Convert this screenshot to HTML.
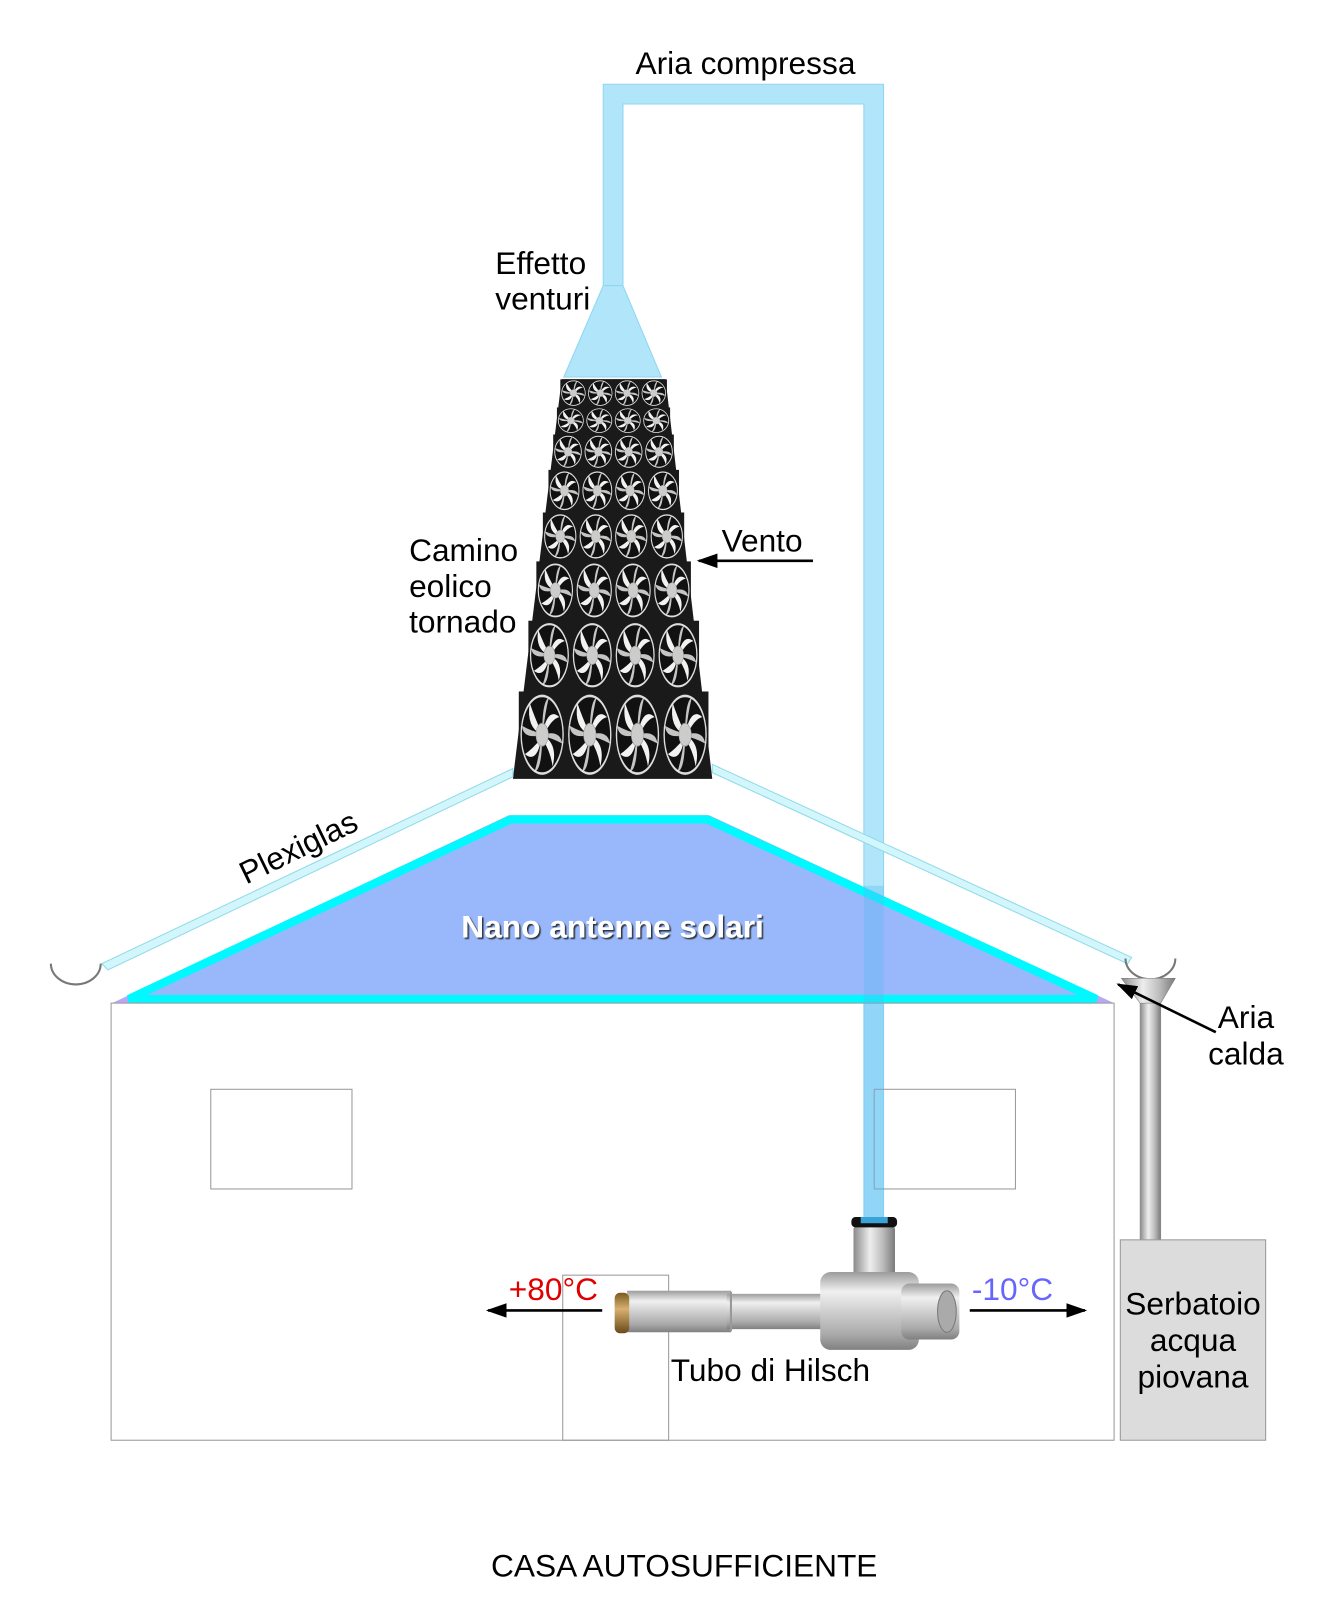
<!DOCTYPE html>
<html><head><meta charset="utf-8"><style>
html,body{margin:0;padding:0;background:#fff;width:1329px;height:1620px;overflow:hidden}
svg{display:block}
text{font-family:"Liberation Sans",sans-serif}
</style></head><body>
<svg width="1329" height="1620" viewBox="0 0 1280 1560" xmlns="http://www.w3.org/2000/svg">
<defs>
<symbol id="fan" viewBox="0 0 100 100" preserveAspectRatio="none">
<rect x="1" y="1" width="98" height="98" fill="#1a1a1a"/>
<circle cx="50" cy="50" r="44" fill="#111" stroke="#ddd" stroke-width="3"/>
<g fill="#f2f2f2">
<path d="M50 50 Q62 18 86 30 Q70 32 56 48Z"/>
<path d="M50 50 Q84 60 72 86 Q68 70 52 56Z"/>
<path d="M50 50 Q40 84 14 72 Q30 66 45 56Z"/>
<path d="M50 50 Q16 42 24 14 Q34 30 46 44Z"/>
<path d="M50 50 Q50 12 64 8 Q56 26 52 46Z" opacity=".8"/>
<path d="M50 50 Q88 44 92 60 Q72 54 54 52Z" opacity=".8"/>
<path d="M50 50 Q50 90 34 92 Q44 74 48 54Z" opacity=".8"/>
<path d="M50 50 Q10 56 8 40 Q28 46 46 48Z" opacity=".8"/>
</g>
<circle cx="50" cy="50" r="13" fill="#ccc" stroke="#998" stroke-width="1"/>
</symbol>
<linearGradient id="steel" x1="0" y1="0" x2="0" y2="1">
<stop offset="0" stop-color="#9c9c9c"/><stop offset=".25" stop-color="#f0f0f0"/><stop offset=".5" stop-color="#d0d0d0"/><stop offset=".8" stop-color="#aaaaaa"/><stop offset="1" stop-color="#808080"/>
</linearGradient>
<linearGradient id="steelV" x1="0" y1="0" x2="1" y2="0">
<stop offset="0" stop-color="#8a8a8a"/><stop offset=".4" stop-color="#eeeeee"/><stop offset=".7" stop-color="#bdbdbd"/><stop offset="1" stop-color="#7a7a7a"/>
</linearGradient>
<linearGradient id="brass" x1="0" y1="0" x2="0" y2="1">
<stop offset="0" stop-color="#7a5a20"/><stop offset=".4" stop-color="#d8b070"/><stop offset="1" stop-color="#6a4a18"/>
</linearGradient>
<marker id="ah" markerWidth="20" markerHeight="14" refX="18" refY="7" orient="auto" markerUnits="userSpaceOnUse" viewBox="0 0 20 14">
<path d="M0 0 L20 7 L0 14Z" fill="#000"/>
</marker>
<filter id="sh" x="-5%" y="-20%" width="110%" height="140%"><feDropShadow dx="1.5" dy="1.5" stdDeviation="0.6" flood-color="#222" flood-opacity="0.9"/></filter>
</defs>

<path d="M581 275 V81 H851 V1175 H832 V100 H600 V275Z" fill="#b0e5fa" stroke="#8fd6f2" stroke-width="1"/>
<polygon points="581,275 600,275 637,363 543,363" fill="#b0e5fa" stroke="#8fd6f2" stroke-width="1"/>

<polygon points="541,365 641,365 686,750 494,750" fill="#1a1a1a"/>
<g>
<use href="#fan" x="539.4" y="365" width="25.8" height="27"/><use href="#fan" x="565.2" y="365" width="25.8" height="27"/><use href="#fan" x="591" y="365" width="25.8" height="27"/><use href="#fan" x="616.8" y="365" width="25.8" height="27"/>
<use href="#fan" x="536.1" y="392" width="27.4" height="26"/><use href="#fan" x="563.5" y="392" width="27.4" height="26"/><use href="#fan" x="590.9" y="392" width="27.4" height="26"/><use href="#fan" x="618.3" y="392" width="27.4" height="26"/>
<use href="#fan" x="532.5" y="418" width="29.2" height="34"/><use href="#fan" x="561.7" y="418" width="29.2" height="34"/><use href="#fan" x="590.9" y="418" width="29.2" height="34"/><use href="#fan" x="620.1" y="418" width="29.2" height="34"/>
<use href="#fan" x="527.9" y="452" width="31.6" height="41"/><use href="#fan" x="559.5" y="452" width="31.6" height="41"/><use href="#fan" x="591.1" y="452" width="31.6" height="41"/><use href="#fan" x="622.7" y="452" width="31.6" height="41"/>
<use href="#fan" x="522.5" y="493" width="34.2" height="47"/><use href="#fan" x="556.7" y="493" width="34.2" height="47"/><use href="#fan" x="590.9" y="493" width="34.2" height="47"/><use href="#fan" x="625.1" y="493" width="34.2" height="47"/>
<use href="#fan" x="516.2" y="540" width="37.4" height="57"/><use href="#fan" x="553.6" y="540" width="37.4" height="57"/><use href="#fan" x="591" y="540" width="37.4" height="57"/><use href="#fan" x="628.4" y="540" width="37.4" height="57"/>
<use href="#fan" x="508.5" y="597" width="41.3" height="68"/><use href="#fan" x="549.8" y="597" width="41.3" height="68"/><use href="#fan" x="591.1" y="597" width="41.3" height="68"/><use href="#fan" x="632.4" y="597" width="41.3" height="68"/>
<use href="#fan" x="499.2" y="665" width="45.9" height="85"/><use href="#fan" x="545.1" y="665" width="45.9" height="85"/><use href="#fan" x="591" y="665" width="45.9" height="85"/><use href="#fan" x="636.9" y="665" width="45.9" height="85"/>
</g>

<polygon points="494,740 494,748 104,934 98,928" fill="#d2f6fb" stroke="#8fdbe8" stroke-width="1"/>
<polygon points="686,736 686,744 1086,928 1090,922" fill="#d2f6fb" stroke="#8fdbe8" stroke-width="1"/>
<path d="M49 928 A24 20 0 0 0 97 928" fill="none" stroke="#777" stroke-width="2"/>
<path d="M1084 923 A24 20 0 0 0 1132 923" fill="none" stroke="#777" stroke-width="2"/>

<polygon points="108,966 490,785 683,785 1073,966" fill="#b8a8f4"/>
<polygon points="124,962 492,789 681,789 1056,962" fill="#99b8fb" stroke="#00f8ff" stroke-width="8" stroke-linejoin="miter"/>
<text x="590" y="903" font-size="30.5" font-weight="bold" fill="#fff" text-anchor="middle" filter="url(#sh)">Nano antenne solari</text>

<rect x="107" y="966" width="966" height="421" fill="none" stroke="#999" stroke-width="1"/>
<rect x="203" y="1049" width="136" height="96" fill="none" stroke="#999" stroke-width="1"/>
<rect x="842" y="1049" width="136" height="96" fill="none" stroke="#999" stroke-width="1"/>
<rect x="542" y="1228" width="102" height="159" fill="none" stroke="#999" stroke-width="1"/>

<rect x="832" y="853" width="19" height="322" fill="#58b8f0" opacity="0.35"/>

<rect x="822" y="1180" width="40" height="50" rx="4" fill="url(#steelV)"/>
<rect x="820" y="1172" width="44" height="10" rx="4" fill="#111"/>
<rect x="829" y="1172" width="26" height="6" fill="#3aa3d8"/>
<rect x="604" y="1243" width="100" height="40" fill="url(#steel)"/>
<rect x="700" y="1246" width="100" height="34" fill="url(#steel)"/>
<line x1="704" y1="1244" x2="704" y2="1282" stroke="#999" stroke-width="2"/>
<rect x="790" y="1225" width="95" height="75" rx="10" fill="url(#steel)"/>
<rect x="868" y="1236" width="56" height="54" rx="8" fill="url(#steel)"/>
<ellipse cx="912" cy="1263" rx="9" ry="20" fill="#aaa" stroke="#777"/>
<rect x="592" y="1245" width="14" height="39" rx="5" fill="url(#brass)"/>

<rect x="1098" y="960" width="20" height="235" fill="url(#steelV)" stroke="#888" stroke-width="0.5"/>
<polygon points="1080,942 1132,942 1118,966 1098,966" fill="url(#steelV)" stroke="#777" stroke-width="0.5"/>
<rect x="1079" y="1194" width="140" height="193" fill="#dcdcdc" stroke="#999" stroke-width="1"/>

<line x1="580" y1="1262" x2="470" y2="1262" stroke="#000" stroke-width="2.5" marker-end="url(#ah)"/>
<line x1="934" y1="1262" x2="1045" y2="1262" stroke="#000" stroke-width="2.5" marker-end="url(#ah)"/>
<line x1="783" y1="540" x2="673" y2="540" stroke="#000" stroke-width="2.5" marker-end="url(#ah)"/>
<line x1="1171" y1="994" x2="1077" y2="948" stroke="#000" stroke-width="2.5" marker-end="url(#ah)"/>

<g font-size="30.5" fill="#000">
<text x="718" y="71" text-anchor="middle">Aria compressa</text>
<text x="477" y="264">Effetto</text>
<text x="477" y="298">venturi</text>
<text x="394" y="540">Camino</text>
<text x="394" y="575">eolico</text>
<text x="394" y="609">tornado</text>
<text x="695" y="531">Vento</text>
<text x="288" y="826" text-anchor="middle" transform="rotate(-26 288 817)">Plexiglas</text>
<text x="1200" y="990" text-anchor="middle">Aria</text>
<text x="1200" y="1025" text-anchor="middle">calda</text>
<text x="490" y="1252" fill="#e00000">+80°C</text>
<text x="936" y="1252" fill="#6666ff">-10°C</text>
<text x="646" y="1330">Tubo di Hilsch</text>
<text x="1149" y="1266" text-anchor="middle">Serbatoio</text>
<text x="1149" y="1301" text-anchor="middle">acqua</text>
<text x="1149" y="1336" text-anchor="middle">piovana</text>
<text x="659" y="1518" text-anchor="middle">CASA AUTOSUFFICIENTE</text>
</g>
</svg>
</body></html>
